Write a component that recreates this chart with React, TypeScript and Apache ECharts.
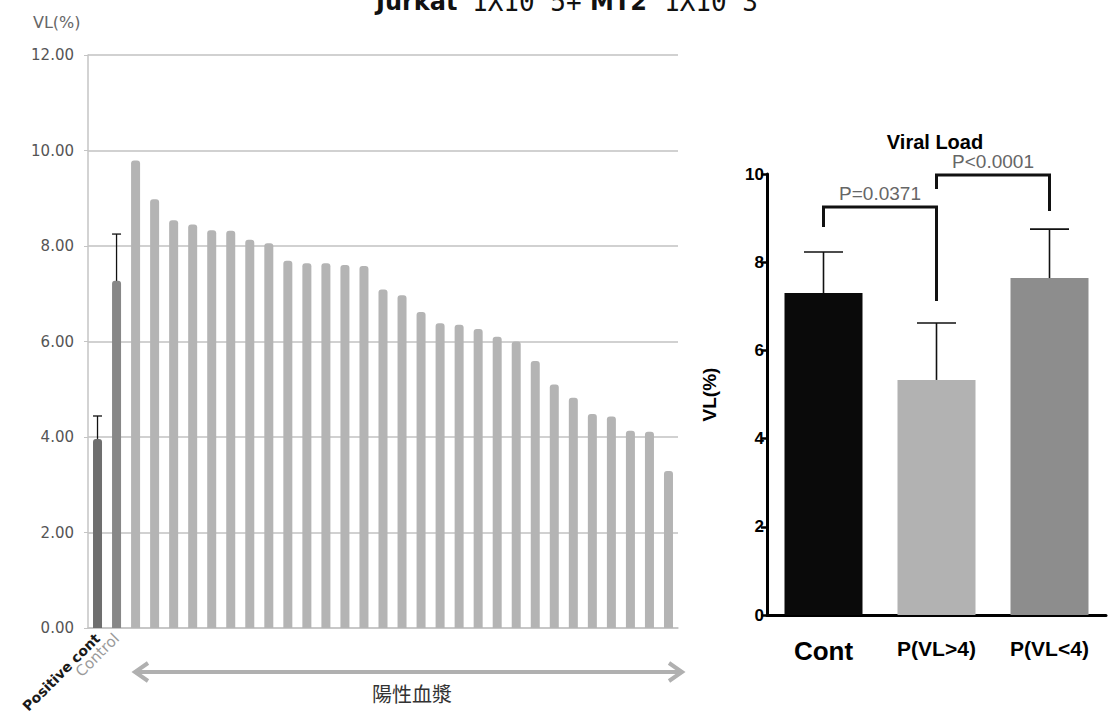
import React, { useEffect, useRef } from 'react';
import * as echarts from 'echarts';

// Left panel: control wells followed by positive plasma samples (VL %)
const controlCategories = ['Positive cont', 'Control'];
const controlValues = [3.96, 7.27];
const controlUpper = [4.44, 8.25];
const plasmaValues = [
  9.79, 8.98, 8.54, 8.45, 8.33, 8.32, 8.13, 8.06, 7.69, 7.64,
  7.64, 7.6, 7.58, 7.09, 6.97, 6.62, 6.38, 6.35, 6.26, 6.1,
  6.0, 5.59, 5.1, 4.82, 4.48, 4.43, 4.13, 4.11, 3.29,
];
const plasmaCategories = plasmaValues.map((_, i) => `S${i + 1}`);

// Right panel: group means with upper error
const vlCategories = ['Cont', 'P(VL>4)', 'P(VL<4)'];
const vlMeans = [7.3, 5.33, 7.64];
const vlUpper = [8.23, 6.62, 8.75];

// Significance brackets: [from index, to index, left leg end, bracket top, right leg end]
const compFrom = [0, 1];
const compTo = [1, 2];
const compLegFrom = [8.8, 9.66];
const compTop = [9.25, 9.98];
const compLegTo = [7.12, 9.16];
const compLabels = ['P=0.0371', 'P<0.0001'];

const leftColors = ['#6e6e6e', '#878787'];
const plasmaColor = '#b4b4b4';
const vlColors = ['#0a0a0a', '#b2b2b2', '#8d8d8d'];

const SANS = 'Liberation Sans, Arial, sans-serif';

const errorBar = (cap: number, width: number) => (_params: any, api: any) => {
  const idx = api.value(0);
  const base = api.coord([idx, api.value(1)]);
  const top = api.coord([idx, api.value(2)]);
  const style = { stroke: '#111', lineWidth: width };
  return {
    type: 'group',
    children: [
      { type: 'line', shape: { x1: base[0], y1: base[1], x2: top[0], y2: top[1] }, style },
      { type: 'line', shape: { x1: top[0] - cap / 2, y1: top[1], x2: top[0] + cap / 2, y2: top[1] }, style },
    ],
  };
};

export default function App() {
  const ref = useRef<HTMLDivElement>(null);

  useEffect(() => {
    document.body.style.margin = '0';
    const chart = echarts.init(ref.current!, null, { renderer: 'svg' });

    const leftCategories = [...controlCategories, ...plasmaCategories];
    const leftBars = [
      ...controlValues.map((v, i) => ({ value: v, itemStyle: { color: leftColors[i] } })),
      ...plasmaValues.map((v) => ({ value: v, itemStyle: { color: plasmaColor } })),
    ];

    const option: any = {
      animation: false,
      backgroundColor: '#ffffff',
      grid: [
        { left: 88, top: 55, width: 590, height: 573, outerBoundsMode: 'none', containLabel: false },
        { left: 767, top: 174, width: 339, height: 441, outerBoundsMode: 'none', containLabel: false },
      ],
      xAxis: [
        {
          type: 'category',
          gridIndex: 0,
          data: leftCategories.map((c, i) => ({
            value: c,
            textStyle:
              i === 0
                ? { color: '#1a1a1a', fontWeight: 'bold', fontSize: 14 }
                : { color: '#9a9a9a', fontSize: 15 },
          })),
          axisLine: { lineStyle: { color: '#c4c4c4', width: 1.5 } },
          axisTick: { show: false },
          axisLabel: {
            interval: 0,
            rotate: 45,
            margin: 8,
            fontFamily: 'DejaVu Sans, sans-serif',
            formatter: (v: string, i: number) => (i < controlCategories.length ? v : ''),
          },
        },
        {
          type: 'category',
          gridIndex: 1,
          data: vlCategories.map((c, i) => ({
            value: c,
            textStyle: { fontSize: i === 0 ? 26 : 21 },
          })),
          axisLine: { lineStyle: { color: '#000', width: 3 } },
          axisTick: { alignWithLabel: true, length: 7, lineStyle: { color: '#000', width: 2.5 } },
          axisLabel: { color: '#000', fontWeight: 'bold', fontFamily: SANS, margin: 23 },
        },
      ],
      yAxis: [
        {
          type: 'value',
          gridIndex: 0,
          min: 0,
          max: 12,
          interval: 2,
          axisLine: { show: true, lineStyle: { color: '#c4c4c4', width: 1.5 } },
          axisTick: { show: true, length: 4, lineStyle: { color: '#c4c4c4' } },
          splitLine: { lineStyle: { color: '#c2c2c2', width: 1.5 } },
          axisLabel: {
            formatter: (v: number) => v.toFixed(2),
            fontFamily: 'DejaVu Sans, sans-serif',
            fontSize: 15,
            color: '#555',
            margin: 14,
          },
        },
        {
          type: 'value',
          gridIndex: 1,
          min: 0,
          max: 10,
          interval: 2,
          name: 'VL(%)',
          nameLocation: 'middle',
          nameGap: 48,
          nameTextStyle: { fontWeight: 'bold', fontSize: 19, color: '#000', fontFamily: SANS },
          axisLine: { show: true, lineStyle: { color: '#000', width: 3 } },
          axisTick: { show: true, length: 6, lineStyle: { color: '#000', width: 2.5 } },
          splitLine: { show: false },
          axisLabel: { fontWeight: 'bold', fontSize: 17, color: '#000', fontFamily: SANS, margin: 3 },
        },
      ],
      series: [
        {
          type: 'bar',
          xAxisIndex: 0,
          yAxisIndex: 0,
          barWidth: 9,
          data: leftBars,
          itemStyle: { borderRadius: [3, 3, 0, 0] },
        },
        {
          type: 'custom',
          xAxisIndex: 0,
          yAxisIndex: 0,
          encode: { x: 0, y: [1, 2] },
          renderItem: errorBar(9, 1.3),
          data: controlValues.map((v, i) => [i, v, controlUpper[i]]),
          z: 5,
        },
        {
          type: 'bar',
          xAxisIndex: 1,
          yAxisIndex: 1,
          barWidth: 78,
          data: vlMeans.map((v, i) => ({ value: v, itemStyle: { color: vlColors[i] } })),
        },
        {
          type: 'custom',
          xAxisIndex: 1,
          yAxisIndex: 1,
          encode: { x: 0, y: [1, 2] },
          renderItem: errorBar(39, 1.6),
          data: vlMeans.map((v, i) => [i, v, vlUpper[i]]),
          z: 5,
        },
        {
          type: 'custom',
          xAxisIndex: 1,
          yAxisIndex: 1,
          encode: { x: [0, 1], y: [2, 3, 4] },
          renderItem: (params: any, api: any) => {
            const a = api.coord([api.value(0), api.value(2)]);
            const t1 = api.coord([api.value(0), api.value(3)]);
            const t2 = api.coord([api.value(1), api.value(3)]);
            const b = api.coord([api.value(1), api.value(4)]);
            return {
              type: 'group',
              children: [
                {
                  type: 'polyline',
                  shape: { points: [a, t1, t2, b] },
                  style: { stroke: '#111', lineWidth: 3, fill: 'none' },
                },
                {
                  type: 'text',
                  x: (t1[0] + t2[0]) / 2,
                  y: t1[1] - 4,
                  style: {
                    text: compLabels[params.dataIndex],
                    align: 'center',
                    verticalAlign: 'bottom',
                    fontSize: 19,
                    fill: '#666',
                    fontFamily: SANS,
                  },
                },
              ],
            };
          },
          data: compFrom.map((f, i) => [f, compTo[i], compLegFrom[i], compTop[i], compLegTo[i]]),
          z: 6,
        },
      ],
      graphic: [
        // main heading, partly above the top edge
        { type: 'text', x: 376, y: 2, style: { text: 'Jurkat', fontFamily: 'DejaVu Sans', fontWeight: 'bold', fontSize: 24, fill: '#111', verticalAlign: 'middle' } },
        { type: 'text', x: 472, y: 2, style: { text: '1X10^5+', fontFamily: 'DejaVu Sans Mono', fontSize: 26, fill: '#111', verticalAlign: 'middle' } },
        { type: 'text', x: 590, y: 2, style: { text: 'MT2', fontFamily: 'DejaVu Sans', fontWeight: 'bold', fontSize: 24, fill: '#111', verticalAlign: 'middle' } },
        { type: 'text', x: 664, y: 2, style: { text: '1X10^3', fontFamily: 'DejaVu Sans Mono', fontSize: 26, fill: '#111', verticalAlign: 'middle' } },
        // left axis unit
        { type: 'text', x: 33, y: 22, style: { text: 'VL(%)', fontFamily: 'DejaVu Sans', fontSize: 16, fill: '#666', verticalAlign: 'middle' } },
        // double-headed arrow spanning the plasma samples
        { type: 'line', shape: { x1: 138, y1: 672, x2: 679, y2: 672 }, style: { stroke: '#b0b0b0', lineWidth: 4 } },
        { type: 'polyline', shape: { points: [[148, 663], [135, 672], [148, 681]] }, style: { stroke: '#b0b0b0', lineWidth: 4, fill: 'none' } },
        { type: 'polyline', shape: { points: [[669, 663], [682, 672], [669, 681]] }, style: { stroke: '#b0b0b0', lineWidth: 4, fill: 'none' } },
        { type: 'text', x: 412, y: 693, style: { text: '陽性血漿', fontFamily: 'Noto Sans CJK TC', fontSize: 20, fill: '#333', align: 'center', verticalAlign: 'middle' } },
        // right panel heading
        { type: 'text', x: 935, y: 142, style: { text: 'Viral Load', fontFamily: SANS, fontWeight: 'bold', fontSize: 20, fill: '#000', align: 'center', verticalAlign: 'middle' } },
      ],
    };

    chart.setOption(option);
    return () => chart.dispose();
  }, []);

  return <div ref={ref} style={{ width: 1111, height: 721 }} />;
}
